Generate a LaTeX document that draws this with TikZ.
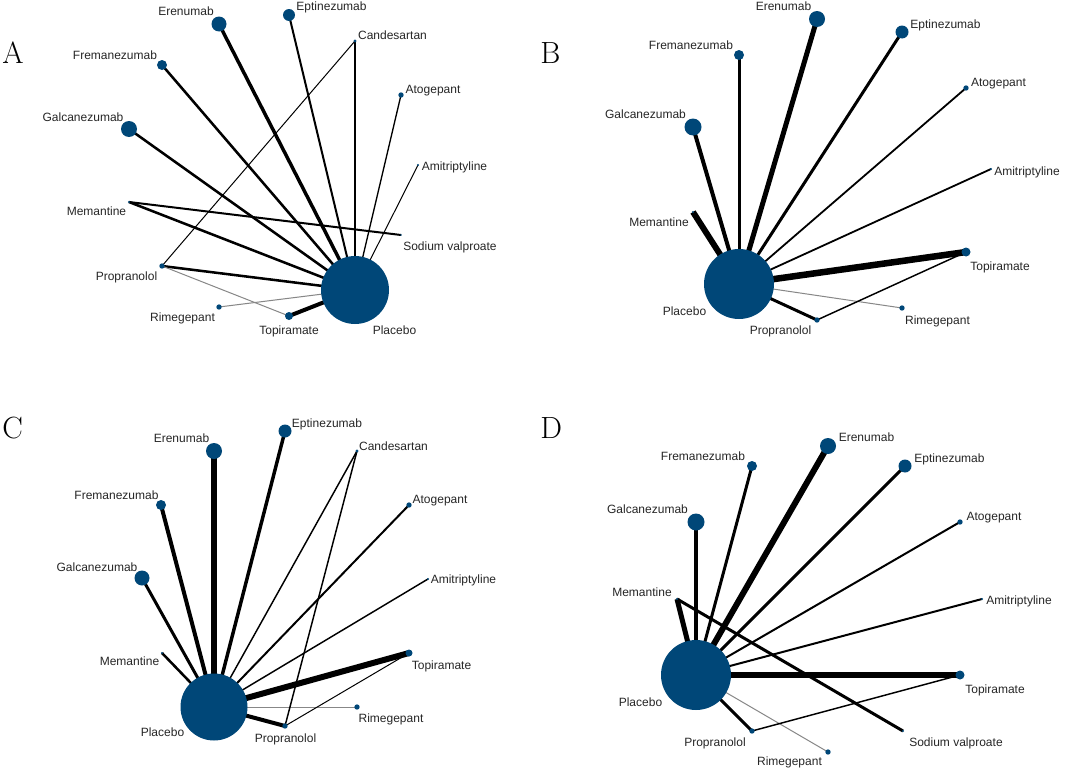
\documentclass[tikz,border=0pt]{standalone}
\usepackage{fontspec}
\newfontfamily\lab{Liberation Sans}
\usetikzlibrary{backgrounds}
\definecolor{nodeblue}{RGB}{0,71,120}
\definecolor{edgegray}{RGB}{135,135,135}
\begin{document}
\begin{tikzpicture}[x=0.75pt,y=-0.75pt,
  nd/.style={circle,fill=nodeblue,draw=none,inner sep=0pt,minimum size=#1pt},
  lbl/.style={font=\lab\fontsize{9}{10}\selectfont,inner sep=0pt,anchor=base,text=black!85},
  ttl/.style={font=\fontsize{23}{23}\selectfont,inner sep=0pt,anchor=base west},
  ed/.style={line width=#1pt,draw=black},
  eg/.style={line width=#1pt,draw=edgegray}]
\begin{scope}[on background layer]
\fill[white] (0,0) rectangle (1065,771);
\end{scope}
\useasboundingbox (0,0) rectangle (1065,771);
% ---------- Panel A ----------
\node[ttl] (tA) at (2,63) {A};
\node[nd=11.25] (aEre) at (219,24) {};
\node[nd=9] (aEpt) at (289,15) {};
\node[nd=2.5] (aCan) at (355,41) {};
\node[nd=7.5] (aFre) at (162,65) {};
\node[nd=4] (aAto) at (401,95) {};
\node[nd=12] (aGal) at (129,129) {};
\node[nd=1.8] (aAmi) at (418,165) {};
\node[nd=1.8] (aMem) at (129,202) {};
\node[nd=1.2] (aSod) at (401,235) {};
\node[nd=4] (aPro) at (162,266) {};
\node[nd=51] (aPla) at (355,290) {};
\node[nd=4] (aRim) at (219,307) {};
\node[nd=6] (aTop) at (289,316) {};
\node[lbl] (aEreL) at (186,16) {Erenumab};
\node[lbl] (aEptL) at (331.5,11) {Eptinezumab};
\node[lbl] (aCanL) at (392.5,39) {Candesartan};
\node[lbl] (aFreL) at (115,59) {Fremanezumab};
\node[lbl] (aAtoL) at (433,93) {Atogepant};
\node[lbl] (aGalL) at (83,121) {Galcanezumab};
\node[lbl] (aAmiL) at (454.5,170) {Amitriptyline};
\node[lbl] (aMemL) at (96.5,215) {Memantine};
\node[lbl] (aSodL) at (450,250) {Sodium valproate};
\node[lbl] (aProL) at (126.5,280) {Propranolol};
\node[lbl] (aRimL) at (182.5,321) {Rimegepant};
\node[lbl] (aTopL) at (289,334) {Topiramate};
\node[lbl] (aPlaL) at (394.5,334) {Placebo};
\begin{scope}[on background layer]
\draw[ed=2.6] (aPla.center) -- (aEre.center);
\draw[ed=1.5] (aPla.center) -- (aEpt.center);
\draw[ed=1.5] (aPla.center) -- (aCan.center);
\draw[ed=1.9] (aPla.center) -- (aFre.center);
\draw[ed=1.9] (aPla.center) -- (aGal.center);
\draw[ed=1.0] (aPla.center) -- (aAto.center);
\draw[ed=0.75] (aPla.center) -- (aAmi.center);
\draw[ed=1.9] (aPla.center) -- (aMem.center);
\draw[ed=1.9] (aPla.center) -- (aPro.center);
\draw[eg=0.75] (aPla.center) -- (aRim.center);
\draw[ed=3] (aPla.center) -- (aTop.center);
\draw[ed=0.75] (aCan.center) -- (aPro.center);
\draw[ed=1.5] (aMem.center) -- (aSod.center);
\draw[eg=0.75] (aPro.center) -- (aTop.center);
\end{scope}
% ---------- Panel B ----------
\node[ttl] (tB) at (540,63) {B};
\node[nd=12] (bEre) at (817,19) {};
\node[nd=9.75] (bEpt) at (902,32) {};
\node[nd=7.5] (bFre) at (739,55) {};
\node[nd=4] (bAto) at (966,88) {};
\node[nd=12.75] (bGal) at (693,127) {};
\node[nd=1.8] (bAmi) at (991,169) {};
\node[nd=1.8] (bMem) at (693,212) {};
\node[nd=52.5] (bPla) at (739,284) {};
\node[nd=6.75] (bTop) at (966,252) {};
\node[nd=4] (bRim) at (902,308) {};
\node[nd=4] (bPro) at (817,320) {};
\node[lbl] (bEreL) at (783.5,11) {Erenumab};
\node[lbl] (bEptL) at (945.5,28) {Eptinezumab};
\node[lbl] (bFreL) at (691,49) {Fremanezumab};
\node[lbl] (bAtoL) at (998.5,86) {Atogepant};
\node[lbl] (bGalL) at (645.5,118) {Galcanezumab};
\node[lbl] (bAmiL) at (1027,175) {Amitriptyline};
\node[lbl] (bMemL) at (659,226) {Memantine};
\node[lbl] (bTopL) at (1000,270) {Topiramate};
\node[lbl] (bRimL) at (937.5,324) {Rimegepant};
\node[lbl] (bProL) at (780.5,334) {Propranolol};
\node[lbl] (bPlaL) at (684.5,315) {Placebo};
\begin{scope}[on background layer]
\draw[ed=3.75] (bPla.center) -- (bEre.center);
\draw[ed=2.25] (bPla.center) -- (bEpt.center);
\draw[ed=2.25] (bPla.center) -- (bFre.center);
\draw[ed=3] (bPla.center) -- (bGal.center);
\draw[ed=1.35] (bPla.center) -- (bAto.center);
\draw[ed=1.35] (bPla.center) -- (bAmi.center);
\draw[ed=4.5] (bPla.center) -- (bMem.center);
\draw[ed=4.9] (bPla.center) -- (bTop.center);
\draw[eg=0.75] (bPla.center) -- (bRim.center);
\draw[ed=2.25] (bPla.center) -- (bPro.center);
\draw[ed=1.1] (bPro.center) -- (bTop.center);
\end{scope}
% ---------- Panel C ----------
\node[ttl] (tC) at (2,438) {C};
\node[nd=9.75] (cEpt) at (285,431) {};
\node[nd=12] (cEre) at (214,451) {};
\node[nd=2.5] (cCan) at (357,451) {};
\node[nd=7.5] (cFre) at (161,505) {};
\node[nd=4] (cAto) at (409,505) {};
\node[nd=11.25] (cGal) at (142,578) {};
\node[nd=1.8] (cAmi) at (428,579) {};
\node[nd=1.8] (cMem) at (162,653) {};
\node[nd=5.25] (cTop) at (409,653) {};
\node[nd=50.25] (cPla) at (214,707) {};
\node[nd=4] (cRim) at (357,707) {};
\node[nd=4] (cPro) at (285,726) {};
\node[lbl] (cEptL) at (327,427) {Eptinezumab};
\node[lbl] (cEreL) at (181.5,442) {Erenumab};
\node[lbl] (cCanL) at (393.5,450) {Candesartan};
\node[lbl] (cFreL) at (116.5,499) {Fremanezumab};
\node[lbl] (cAtoL) at (440,503) {Atogepant};
\node[lbl] (cGalL) at (97,571) {Galcanezumab};
\node[lbl] (cAmiL) at (463.5,583) {Amitriptyline};
\node[lbl] (cMemL) at (129.5,665) {Memantine};
\node[lbl] (cTopL) at (441.5,669) {Topiramate};
\node[lbl] (cRimL) at (391,722) {Rimegepant};
\node[lbl] (cProL) at (285.5,742) {Propranolol};
\node[lbl] (cPlaL) at (162.5,736) {Placebo};
\begin{scope}[on background layer]
\draw[ed=4.1] (cPla.center) -- (cEre.center);
\draw[ed=2.6] (cPla.center) -- (cEpt.center);
\draw[ed=3] (cPla.center) -- (cFre.center);
\draw[ed=2.25] (cPla.center) -- (cGal.center);
\draw[ed=1.9] (cPla.center) -- (cMem.center);
\draw[ed=1.1] (cPla.center) -- (cCan.center);
\draw[ed=1.5] (cPla.center) -- (cAto.center);
\draw[ed=1.1] (cPla.center) -- (cAmi.center);
\draw[ed=4.5] (cPla.center) -- (cTop.center);
\draw[eg=0.75] (cPla.center) -- (cRim.center);
\draw[ed=3] (cPla.center) -- (cPro.center);
\draw[ed=1.1] (cCan.center) -- (cPro.center);
\draw[ed=0.75] (cPro.center) -- (cTop.center);
\end{scope}
% ---------- Panel D ----------
\node[ttl] (tD) at (540,438) {D};
\node[nd=12] (dEre) at (828,446) {};
\node[nd=7.5] (dFre) at (752,466) {};
\node[nd=9.75] (dEpt) at (905,466) {};
\node[nd=12.75] (dGal) at (696,522) {};
\node[nd=4] (dAto) at (960,522) {};
\node[nd=1.8] (dMem) at (677,599) {};
\node[nd=1.8] (dAmi) at (982,599) {};
\node[nd=52.5] (dPla) at (696,675) {};
\node[nd=6.75] (dTop) at (960,675) {};
\node[nd=1.8] (dSod) at (903,731) {};
\node[nd=4] (dPro) at (752,731) {};
\node[nd=4] (dRim) at (828,752) {};
\node[lbl] (dEreL) at (866.5,441) {Erenumab};
\node[lbl] (dFreL) at (703,460) {Fremanezumab};
\node[lbl] (dEptL) at (949.5,462) {Eptinezumab};
\node[lbl] (dGalL) at (647.5,513) {Galcanezumab};
\node[lbl] (dAtoL) at (994,520) {Atogepant};
\node[lbl] (dMemL) at (642,596) {Memantine};
\node[lbl] (dAmiL) at (1019,604) {Amitriptyline};
\node[lbl] (dTopL) at (995,693) {Topiramate};
\node[lbl] (dSodL) at (956,746) {Sodium valproate};
\node[lbl] (dProL) at (715,746) {Propranolol};
\node[lbl] (dRimL) at (789.5,765) {Rimegepant};
\node[lbl] (dPlaL) at (640.5,706) {Placebo};
\begin{scope}[on background layer]
\draw[ed=2.6] (dPla.center) -- (dGal.center);
\draw[ed=2.25] (dPla.center) -- (dFre.center);
\draw[ed=4.5] (dPla.center) -- (dEre.center);
\draw[ed=2.25] (dPla.center) -- (dEpt.center);
\draw[ed=1.5] (dPla.center) -- (dAto.center);
\draw[ed=1.5] (dPla.center) -- (dAmi.center);
\draw[ed=3.75] (dPla.center) -- (dMem.center);
\draw[ed=4.9] (dPla.center) -- (dTop.center);
\draw[ed=2.25] (dPla.center) -- (dPro.center);
\draw[eg=0.75] (dPla.center) -- (dRim.center);
\draw[ed=2.25] (dMem.center) -- (dSod.center);
\draw[ed=1.1] (dPro.center) -- (dTop.center);
\end{scope}
\end{tikzpicture}
\end{document}
